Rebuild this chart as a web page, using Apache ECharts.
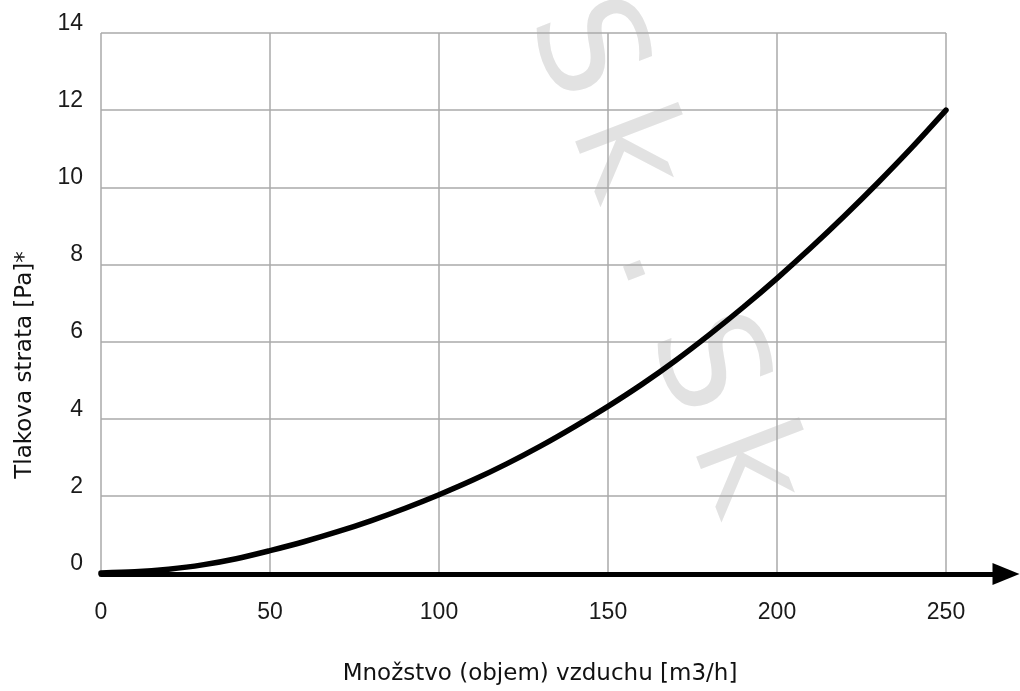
<!DOCTYPE html>
<html><head><meta charset="utf-8">
<script src="https://cdn.jsdelivr.net/npm/echarts@6/dist/echarts.min.js"></script>
<style>html,body{margin:0;padding:0;background:#fff}#c{width:1020px;height:691px}</style>
</head><body><div id="c"></div>
<script>
// Data
const airflow = [0,10,20,30,40,50,60,70,80,90,100,110,120,130,140,150,160,170,180,190,200,210,220,230,240,250];
const pressureLoss = [0,0.03,0.1,0.21,0.37,0.58,0.81,1.07,1.36,1.68,2.03,2.41,2.83,3.29,3.79,4.32,4.89,5.51,6.18,6.89,7.64,8.43,9.26,10.13,11.04,12.0];
const xAxisRange = [0, 250];
const xInterval = 50;
const yAxisRange = [0, 14];
const yInterval = 2;
const xAxisTitle = 'Množstvo (objem) vzduchu [m3/h]';
const yAxisTitle = 'Tlakova strata [Pa]*';
const watermarkChars = ['S','k','.','S','k'];

const chart = echarts.init(document.getElementById('c'));
const gridLine = {show:true, showMinLine:true, showMaxLine:true, lineStyle:{color:'#aaaaaa', width:1.5}};
const labelFont = {fontFamily:'Liberation Sans', fontSize:23, color:'#1a1a1a'};
const titleFont = {fontFamily:'DejaVu Sans', fontSize:23, color:'#111111'};

const option = {
  animation:false,
  backgroundColor:'#ffffff',
  grid:[
    {left:101, right:74, top:33, bottom:115},
    {left:101, right:14, top:33, bottom:117}
  ],
  xAxis:[
    {type:'value', gridIndex:0, min:xAxisRange[0], max:xAxisRange[1], interval:xInterval,
     axisLine:{show:false}, axisTick:{show:false}, splitLine:gridLine,
     axisLabel:Object.assign({margin:28}, labelFont),
     name:xAxisTitle, nameLocation:'middle', nameGap:90,
     nameTextStyle:Object.assign({padding:[0,0,0,33]}, titleFont)},
    {type:'value', gridIndex:1, min:0, max:1,
     axisLine:{show:true, onZero:false, symbol:['none','triangle'], symbolSize:[22,27],
               lineStyle:{color:'#000000', width:5}},
     axisTick:{show:false}, axisLabel:{show:false}, splitLine:{show:false}}
  ],
  yAxis:[
    {type:'value', gridIndex:0, min:yAxisRange[0], max:yAxisRange[1], interval:yInterval,
     axisLine:{show:false}, axisTick:{show:false}, splitLine:gridLine,
     axisLabel:Object.assign({margin:18, verticalAlign:'bottom', lineHeight:19}, labelFont),
     name:yAxisTitle, nameLocation:'middle', nameGap:64, nameRotate:90,
     nameTextStyle:Object.assign({padding:[0,124,0,0]}, titleFont)},
    {type:'value', gridIndex:1, show:false, min:0, max:1}
  ],
  series:[{
    type:'line', xAxisIndex:0, yAxisIndex:0,
    data: airflow.map((x,i)=>[x, pressureLoss[i]]),
    smooth:0.3, showSymbol:false, z:5,
    lineStyle:{color:'#000000', width:5.5, cap:'round'}
  }],
  graphic:[{
    type:'group', x:661, y:260, rotation:-69*Math.PI/180, z:-10, silent:true,
    children: watermarkChars.map((ch,i)=>({
      type:'text', x:(i-2)*112.6, y:0, z:-10,
      style:{text:ch, fontSize:145, fontFamily:'DejaVu Sans', fontWeight:'normal', fill:'#e2e2e2',
             align:'center', verticalAlign:'middle', textAlign:'center', textVerticalAlign:'middle'}
    }))
  }]
};
chart.setOption(option);
</script></body></html>
